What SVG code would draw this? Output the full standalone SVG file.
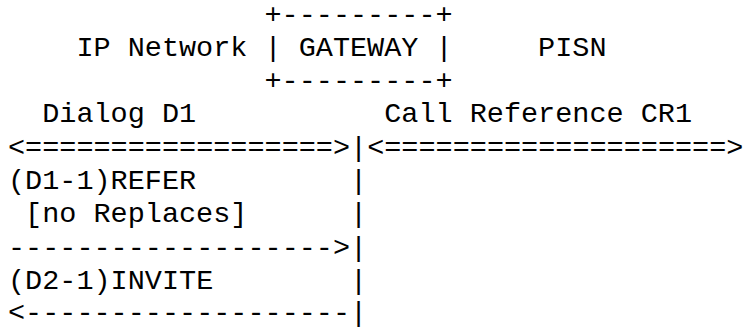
<svg xmlns="http://www.w3.org/2000/svg" width="744" height="330" viewBox="0 0 744 330">
<style>
text{font-family:"Courier New","Liberation Mono",monospace;font-size:28.5px;fill:#000;white-space:pre}
</style>
<rect width="744" height="330" fill="#fff"/>
<g id="gateway">
<text x="264.5" y="22.5" xml:space="preserve">+---------+</text>
<text x="264.5" y="55.8" xml:space="preserve">| GATEWAY |</text>
<text x="264.5" y="89.1" xml:space="preserve">+---------+</text>
</g>
<g id="ip-network">
<text x="76.4" y="55.8">IP Network</text>
</g>
<g id="pisn">
<text x="538.1" y="55.8">PISN</text>
</g>
<g id="dialog-d1">
<text x="42.2" y="122.4">Dialog D1</text>
</g>
<g id="call-reference-cr1">
<text x="384.2" y="122.4">Call Reference CR1</text>
</g>
<g id="connectors">
<text x="8" y="155.7" xml:space="preserve">&lt;==================&gt;|&lt;====================&gt;</text>
<text x="8" y="189" xml:space="preserve">(D1-1)REFER         |</text>
<text x="25.1" y="222.3" xml:space="preserve">[no Replaces]      |</text>
<text x="8" y="255.6" xml:space="preserve">-------------------&gt;|</text>
<text x="8" y="288.9" xml:space="preserve">(D2-1)INVITE        |</text>
<text x="8" y="321.3" xml:space="preserve">&lt;-------------------|</text>
</g>
</svg>
